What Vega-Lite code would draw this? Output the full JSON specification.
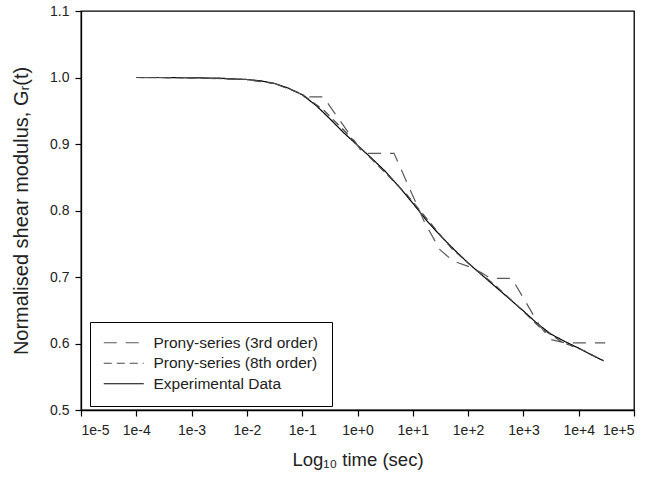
{
  "$schema": "https://vega.github.io/schema/vega-lite/v6.json",
  "width": 553,
  "height": 399,
  "autosize": {"type": "none"},
  "padding": {"left": 81, "top": 11, "right": 17, "bottom": 71},
  "background": "white",
  "config": {
    "font": "Liberation Sans",
    "view": {"stroke": "#000", "strokeWidth": 1.3},
    "axis": {
      "domainColor": "#000",
      "domainWidth": 1.3,
      "tickColor": "#000",
      "tickWidth": 1.2,
      "tickSize": 6,
      "grid": false,
      "labelFont": "Liberation Sans",
      "labelFontSize": 14,
      "labelColor": "#222",
      "titleFont": "Liberation Sans",
      "titleFontSize": 18.5,
      "titleFontWeight": "normal",
      "titleColor": "#222"
    },
    "legend": {
      "labelFont": "Liberation Sans",
      "labelFontSize": 15.5,
      "labelColor": "#222",
      "labelLimit": 400
    }
  },
  "data": {
    "values": [
      {"series": "Experimental Data", "logt": -4.0, "g": 1.000},
      {"series": "Experimental Data", "logt": -3.5, "g": 1.000},
      {"series": "Experimental Data", "logt": -3.0, "g": 0.9995},
      {"series": "Experimental Data", "logt": -2.5, "g": 0.999},
      {"series": "Experimental Data", "logt": -2.0, "g": 0.997},
      {"series": "Experimental Data", "logt": -1.75, "g": 0.995},
      {"series": "Experimental Data", "logt": -1.5, "g": 0.991},
      {"series": "Experimental Data", "logt": -1.25, "g": 0.984},
      {"series": "Experimental Data", "logt": -1.0, "g": 0.974},
      {"series": "Experimental Data", "logt": -0.75, "g": 0.958},
      {"series": "Experimental Data", "logt": -0.5, "g": 0.938},
      {"series": "Experimental Data", "logt": -0.25, "g": 0.917},
      {"series": "Experimental Data", "logt": 0.0, "g": 0.898},
      {"series": "Experimental Data", "logt": 0.25, "g": 0.879},
      {"series": "Experimental Data", "logt": 0.5, "g": 0.859},
      {"series": "Experimental Data", "logt": 0.75, "g": 0.836},
      {"series": "Experimental Data", "logt": 1.0, "g": 0.811},
      {"series": "Experimental Data", "logt": 1.25, "g": 0.785},
      {"series": "Experimental Data", "logt": 1.5, "g": 0.762},
      {"series": "Experimental Data", "logt": 1.75, "g": 0.741},
      {"series": "Experimental Data", "logt": 2.0, "g": 0.721},
      {"series": "Experimental Data", "logt": 2.25, "g": 0.703},
      {"series": "Experimental Data", "logt": 2.5, "g": 0.685},
      {"series": "Experimental Data", "logt": 2.75, "g": 0.667},
      {"series": "Experimental Data", "logt": 3.0, "g": 0.649},
      {"series": "Experimental Data", "logt": 3.25, "g": 0.630},
      {"series": "Experimental Data", "logt": 3.5, "g": 0.614},
      {"series": "Experimental Data", "logt": 3.75, "g": 0.603},
      {"series": "Experimental Data", "logt": 4.0, "g": 0.593},
      {"series": "Experimental Data", "logt": 4.25, "g": 0.582},
      {"series": "Experimental Data", "logt": 4.45, "g": 0.574},

      {"series": "Prony-series (3rd order)", "logt": -4.0, "g": 1.000},
      {"series": "Prony-series (3rd order)", "logt": -3.0, "g": 0.9995},
      {"series": "Prony-series (3rd order)", "logt": -2.0, "g": 0.997},
      {"series": "Prony-series (3rd order)", "logt": -1.5, "g": 0.991},
      {"series": "Prony-series (3rd order)", "logt": -1.2, "g": 0.982},
      {"series": "Prony-series (3rd order)", "logt": -0.91, "g": 0.971},
      {"series": "Prony-series (3rd order)", "logt": -0.62, "g": 0.971},
      {"series": "Prony-series (3rd order)", "logt": 0.10, "g": 0.886},
      {"series": "Prony-series (3rd order)", "logt": 0.66, "g": 0.886},
      {"series": "Prony-series (3rd order)", "logt": 1.22, "g": 0.781},
      {"series": "Prony-series (3rd order)", "logt": 1.49, "g": 0.741},
      {"series": "Prony-series (3rd order)", "logt": 1.73, "g": 0.724},
      {"series": "Prony-series (3rd order)", "logt": 2.0, "g": 0.716},
      {"series": "Prony-series (3rd order)", "logt": 2.25, "g": 0.706},
      {"series": "Prony-series (3rd order)", "logt": 2.4, "g": 0.698},
      {"series": "Prony-series (3rd order)", "logt": 2.79, "g": 0.698},
      {"series": "Prony-series (3rd order)", "logt": 3.30, "g": 0.626},
      {"series": "Prony-series (3rd order)", "logt": 3.5, "g": 0.606},
      {"series": "Prony-series (3rd order)", "logt": 3.75, "g": 0.601},
      {"series": "Prony-series (3rd order)", "logt": 4.48, "g": 0.601},

      {"series": "Prony-series (8th order)", "logt": -4.0, "g": 1.000},
      {"series": "Prony-series (8th order)", "logt": -3.0, "g": 0.9995},
      {"series": "Prony-series (8th order)", "logt": -2.0, "g": 0.997},
      {"series": "Prony-series (8th order)", "logt": -1.5, "g": 0.991},
      {"series": "Prony-series (8th order)", "logt": -1.0, "g": 0.975},
      {"series": "Prony-series (8th order)", "logt": -0.6, "g": 0.950},
      {"series": "Prony-series (8th order)", "logt": -0.25, "g": 0.921},
      {"series": "Prony-series (8th order)", "logt": 0.1, "g": 0.890},
      {"series": "Prony-series (8th order)", "logt": 0.5, "g": 0.857},
      {"series": "Prony-series (8th order)", "logt": 0.9, "g": 0.823},
      {"series": "Prony-series (8th order)", "logt": 1.3, "g": 0.783},
      {"series": "Prony-series (8th order)", "logt": 1.7, "g": 0.743},
      {"series": "Prony-series (8th order)", "logt": 2.1, "g": 0.714},
      {"series": "Prony-series (8th order)", "logt": 2.5, "g": 0.687},
      {"series": "Prony-series (8th order)", "logt": 2.9, "g": 0.656},
      {"series": "Prony-series (8th order)", "logt": 3.3, "g": 0.624},
      {"series": "Prony-series (8th order)", "logt": 3.7, "g": 0.602},
      {"series": "Prony-series (8th order)", "logt": 4.1, "g": 0.589},
      {"series": "Prony-series (8th order)", "logt": 4.45, "g": 0.574}
    ]
  },
  "mark": {"type": "line", "strokeWidth": 1.2, "clip": true},
  "encoding": {
    "x": {
      "field": "logt",
      "type": "quantitative",
      "scale": {"domain": [-5, 5], "nice": false, "zero": false},
      "axis": {
        "values": [-5, -4, -3, -2, -1, 0, 1, 2, 3, 4, 5],
        "labelExpr": "'1e' + (datum.value >= 0 ? '+' : '') + datum.value",
        "labelPadding": 7,
        "title": "Log₁₀ time (sec)",
        "titlePadding": 13
      }
    },
    "y": {
      "field": "g",
      "type": "quantitative",
      "scale": {"domain": [0.5, 1.1], "nice": false, "zero": false},
      "axis": {
        "values": [0.5, 0.6, 0.7, 0.8, 0.9, 1.0, 1.1],
        "format": ".1f",
        "labelPadding": 6,
        "title": "Normalised shear modulus, Gᵣ(t)",
        "titleFontSize": 20,
        "titlePadding": 18
      }
    },
    "color": {
      "field": "series",
      "type": "nominal",
      "scale": {
        "domain": ["Prony-series (3rd order)", "Prony-series (8th order)", "Experimental Data"],
        "range": ["#5a5a5a", "#4a4a4a", "#000000"]
      },
      "legend": {
        "title": null,
        "orient": "none",
        "legendX": 9,
        "legendY": 311,
        "direction": "vertical",
        "fillColor": "white",
        "strokeColor": "#000",
        "padding": 13,
        "rowPadding": 3.5,
        "symbolType": "M-4,0H4",
        "symbolSize": 100,
        "symbolOffset": 13,
        "symbolStrokeWidth": 1.2,
        "labelOffset": 22,
        "labelLimit": 400
      }
    },
    "strokeDash": {
      "field": "series",
      "type": "nominal",
      "scale": {
        "domain": ["Prony-series (3rd order)", "Prony-series (8th order)", "Experimental Data"],
        "range": [[13, 9], [8, 5], [1, 0]]
      },
      "legend": {
        "title": null,
        "orient": "none",
        "legendX": 9,
        "legendY": 311,
        "direction": "vertical",
        "fillColor": "white",
        "strokeColor": "#000",
        "padding": 13,
        "rowPadding": 3.5,
        "symbolType": "M-4,0H4",
        "symbolSize": 100,
        "symbolOffset": 13,
        "symbolStrokeWidth": 1.2,
        "labelOffset": 22,
        "labelLimit": 400
      }
    }
  }
}
